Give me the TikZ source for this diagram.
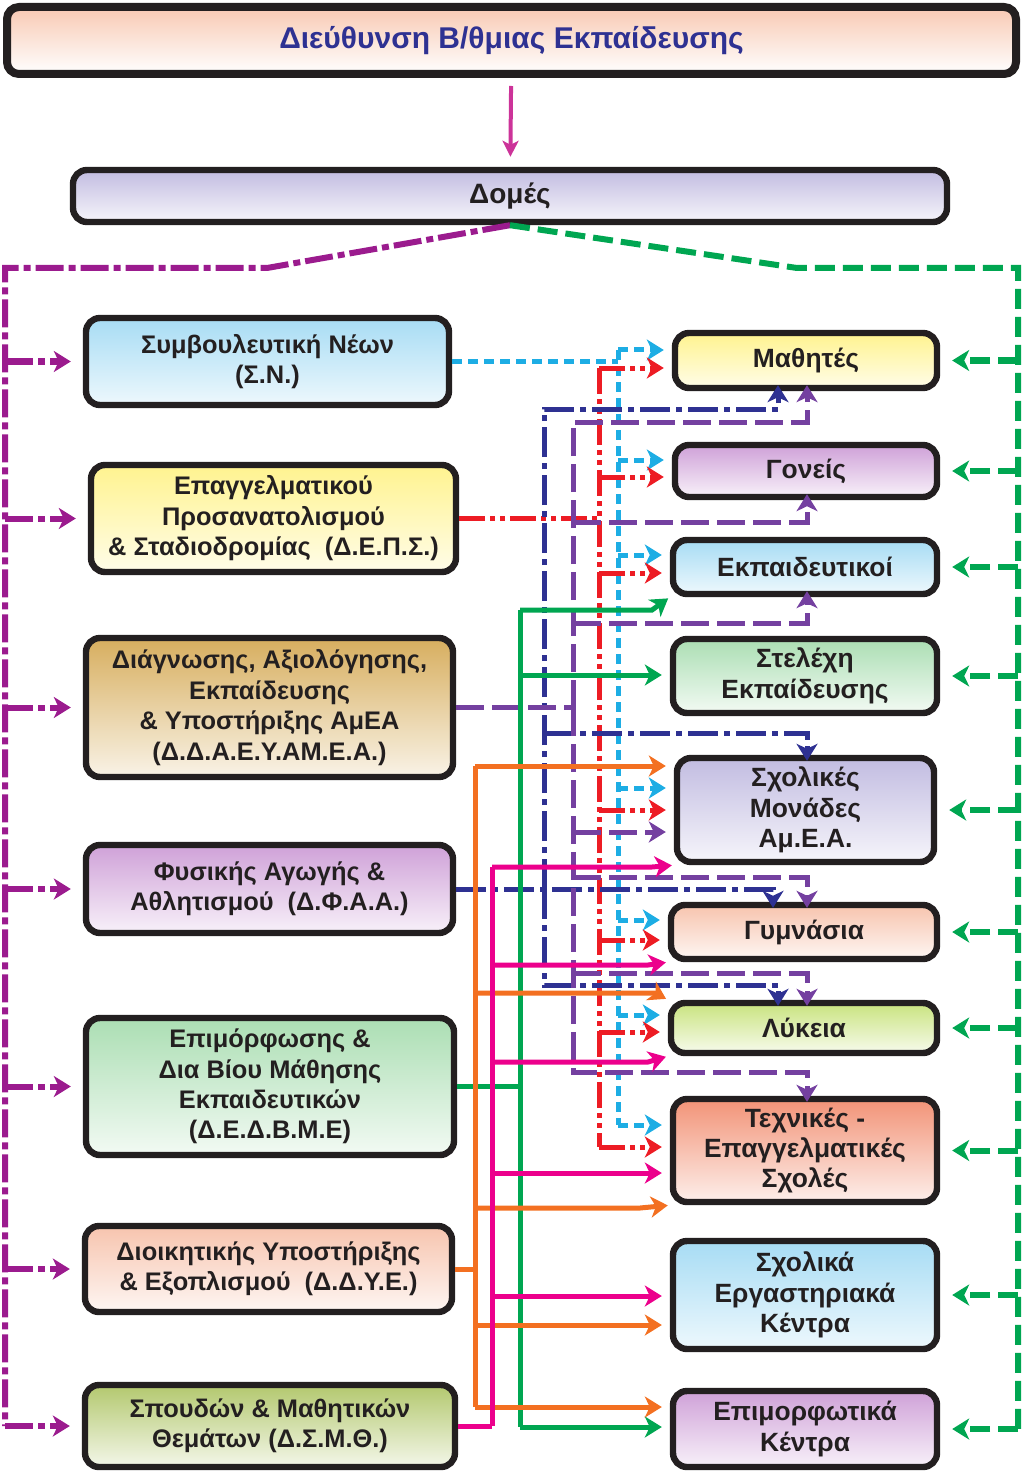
\documentclass[tikz,border=0pt]{standalone}
\usepackage{fontspec}
\setmainfont{Liberation Sans}
\usetikzlibrary{arrows.meta}

\definecolor{txtblack}{HTML}{231F20}
\definecolor{titleblue}{HTML}{2E3192}
\definecolor{dirpink}{HTML}{CC3399}
\definecolor{magbus}{HTML}{9B1B8E}
\definecolor{greenbus}{HTML}{00A651}
\definecolor{cyanbus}{HTML}{1DADE4}
\definecolor{redbus}{HTML}{ED1C24}
\definecolor{navybus}{HTML}{2E3192}
\definecolor{violetbus}{HTML}{7440A0}
\definecolor{orangebus}{HTML}{F37021}
\definecolor{pinkbus}{HTML}{EC008C}

\definecolor{cBlue}{HTML}{A7DCF4}
\definecolor{cYellow}{HTML}{FFF38F}
\definecolor{cTan}{HTML}{D7AE5E}
\definecolor{cLilac}{HTML}{CFA1D8}
\definecolor{cGreen}{HTML}{ABDEB3}
\definecolor{cPeach}{HTML}{F7C4AE}
\definecolor{cOlive}{HTML}{B3C86E}
\definecolor{cLavender}{HTML}{C2BCE1}
\definecolor{cLime}{HTML}{C9E37F}
\definecolor{cSalmon}{HTML}{F29377}
\definecolor{cTitle}{HTML}{F8C9B3}

\tikzstyle{unit} = [rectangle, rounded corners=7pt, draw=txtblack, line width=3.2pt, align=center, text=txtblack, font=\bfseries\fontsize{12.7}{15.2}\selectfont, inner sep=2pt]
\tikzstyle{target} = [unit, font=\bfseries\fontsize{13.2}{15.2}\selectfont]
\tikzstyle{tip} = [-{Stealth[length=8.5pt,width=10.5pt,inset=2.5pt]}, shorten >=4pt]
\tikzstyle{vtip} = [-{Stealth[length=8.5pt,width=10.5pt,inset=2.5pt]}, shorten >=-3pt]
\tikzstyle{magline} = [magbus, line width=3pt, dash pattern=on 14pt off 2.5pt on 3.5pt off 2.5pt]
\tikzstyle{greenline} = [greenbus, line width=3pt, dash pattern=on 10pt off 4pt]
\tikzstyle{cyanline} = [cyanbus, line width=2.5pt, dash pattern=on 5pt off 3pt]
\tikzstyle{redline} = [redbus, line width=2.5pt, dash pattern=on 13pt off 2.5pt on 2.5pt off 2.5pt on 2.5pt off 2.5pt]
\tikzstyle{navyline} = [navybus, line width=2.5pt, dash pattern=on 15pt off 3pt on 3pt off 3pt]
\tikzstyle{violetline} = [violetbus, line width=2.5pt, dash pattern=on 14pt off 4pt]
\tikzstyle{solidgreen} = [greenbus, line width=2.5pt]
\tikzstyle{orangeline} = [orangebus, line width=2.5pt]
\tikzstyle{pinkline} = [pinkbus, line width=2.5pt]

\begin{document}
\begin{tikzpicture}[x=0.5pt, y=-0.5pt]
    \useasboundingbox (0,0) rectangle (1024,1476);

    % top levels
    \node (title) [unit, line width=4pt, rounded corners=6pt, minimum width=504.5pt, minimum height=33.5pt, top color=cTitle, bottom color=white, text=titleblue, font=\bfseries\fontsize{15}{17}\selectfont] at (511.5,40.5) {Διεύθυνση Β/θμιας Εκπαίδευσης};
    \node (domes) [unit, minimum width=437pt, minimum height=26pt, top color=cLavender, bottom color=cLavender!15, font=\bfseries\fontsize{14}{16}\selectfont] at (510,196) {Δομές};

    % left column
    \node (sn) [unit, minimum width=181.5pt, minimum height=43.5pt, top color=cBlue, bottom color=cBlue!20] at (267.5,361.5) {Συμβουλευτική Νέων\\(Σ.Ν.)};
    \node (deps) [unit, minimum width=182.5pt, minimum height=53.5pt, top color=cYellow, bottom color=cYellow!20] at (273.5,518.5) {Επαγγελματικού\\Προσανατολισμού\\\& Σταδιοδρομίας~~(Δ.Ε.Π.Σ.)};
    \node (ddaey) [unit, minimum width=183.5pt, minimum height=69.5pt, top color=cTan, bottom color=cTan!15] at (269.5,707.5) {Διάγνωσης, Αξιολόγησης,\\Εκπαίδευσης\\\& Υποστήριξης ΑμΕΑ\\(Δ.Δ.Α.Ε.Υ.ΑΜ.Ε.Α.)};
    \node (dfaa) [unit, minimum width=183.5pt, minimum height=44pt, top color=cLilac, bottom color=cLilac!15] at (269.5,889) {Φυσικής Αγωγής \&\\Αθλητισμού~~(Δ.Φ.Α.Α.)};
    \node (edbme) [unit, minimum width=184pt, minimum height=68.5pt, top color=cGreen, bottom color=cGreen!15] at (270,1086.5) {Επιμόρφωσης \&\\Δια Βίου Μάθησης\\Εκπαιδευτικών\\(Δ.Ε.Δ.Β.Μ.Ε)};
    \node (ddye) [unit, minimum width=183.5pt, minimum height=43pt, top color=cPeach, bottom color=cPeach!15] at (268.5,1269) {Διοικητικής Υποστήριξης\\\& Εξοπλισμού~~(Δ.Δ.Υ.Ε.)};
    \node (dsmth) [unit, minimum width=185pt, minimum height=41pt, top color=cOlive, bottom color=cOlive!15] at (270,1426) {Σπουδών \& Μαθητικών\\Θεμάτων (Δ.Σ.Μ.Θ.)};

    % right column
    \node (math) [target, minimum width=131pt, minimum height=27.5pt, top color=cYellow, bottom color=cYellow!20] at (806,360.5) {Μαθητές};
    \node (goneis) [target, minimum width=131pt, minimum height=26pt, top color=cLilac, bottom color=cLilac!15] at (806,471) {Γονείς};
    \node (ekp) [target, minimum width=132pt, minimum height=27pt, top color=cBlue, bottom color=cBlue!20] at (805,567) {Εκπαιδευτικοί};
    \node (stel) [target, minimum width=132pt, minimum height=37pt, top color=cGreen, bottom color=cGreen!15] at (805,676) {Στελέχη\\Εκπαίδευσης};
    \node (sxmon) [target, minimum width=128.5pt, minimum height=52pt, top color=cLavender, bottom color=cLavender!15] at (805.5,810) {Σχολικές\\Μονάδες\\Αμ.Ε.Α.};
    \node (gym) [target, minimum width=133pt, minimum height=27pt, top color=cPeach, bottom color=cPeach!15] at (804,932) {Γυμνάσια};
    \node (lyk) [target, minimum width=133pt, minimum height=25pt, top color=cLime, bottom color=cLime!15] at (804,1028) {Λύκεια};
    \node (tex) [target, minimum width=132pt, minimum height=51.5pt, top color=cSalmon, bottom color=cSalmon!15] at (805,1150.5) {Τεχνικές -\\Επαγγελματικές\\Σχολές};
    \node (sek) [target, minimum width=132pt, minimum height=54pt, top color=cBlue, bottom color=cBlue!20] at (805,1295) {Σχολικά\\Εργαστηριακά\\Κέντρα};
    \node (epik) [target, minimum width=132pt, minimum height=38pt, top color=cLilac, bottom color=cLilac!15] at (805,1429) {Επιμορφωτικά\\Κέντρα};

    \draw [dirpink, line width=2pt, -{Stealth[length=8pt,width=8pt,inset=2pt]}, shorten <=4pt, shorten >=5pt] (title) -- (domes);

    % outer buses
    \draw [magline] (domes.south) -- (267,268) -- (5,268) -- (dsmth.west -| 5,0);
    \draw [magline, tip, shorten >=6pt] (sn.west -| 5,0) -- (sn.west);
    \draw [magline, tip, shorten >=6pt] (deps.west -| 5,0) -- (deps.west);
    \draw [magline, tip, shorten >=6pt] (ddaey.west -| 5,0) -- (ddaey.west);
    \draw [magline, tip, shorten >=6pt] (dfaa.west -| 5,0) -- (dfaa.west);
    \draw [magline, tip, shorten >=6pt] (edbme.west -| 5,0) -- (edbme.west);
    \draw [magline, tip, shorten >=6pt] (ddye.west -| 5,0) -- (ddye.west);
    \draw [magline, tip, shorten >=6pt] (dsmth.west -| 5,0) -- (dsmth.west);

    \draw [greenline] (domes.south) -- (797,268) -- (1018,268) -- (epik.east -| 1018,0);
    \draw [greenline, tip, shorten >=6pt] (math.east -| 1018,0) -- (math.east);
    \draw [greenline, tip, shorten >=6pt] (goneis.east -| 1018,0) -- (goneis.east);
    \draw [greenline, tip, shorten >=6pt] (ekp.east -| 1018,0) -- (ekp.east);
    \draw [greenline, tip, shorten >=6pt] (stel.east -| 1018,0) -- (stel.east);
    \draw [greenline, tip, shorten >=6pt] (sxmon.east -| 1018,0) -- (sxmon.east);
    \draw [greenline, tip, shorten >=6pt] (gym.east -| 1018,0) -- (gym.east);
    \draw [greenline, tip, shorten >=6pt] (lyk.east -| 1018,0) -- (lyk.east);
    \draw [greenline, tip, shorten >=6pt] (tex.east -| 1018,0) -- (tex.east);
    \draw [greenline, tip, shorten >=6pt] (sek.east -| 1018,0) -- (sek.east);
    \draw [greenline, tip, shorten >=6pt] (epik.east -| 1018,0) -- (epik.east);

    % Σ.Ν.
    \draw [cyanline] (sn.east) -- (sn.east -| 618,0);
    \draw [cyanline] (618,350) -- (618,1125);
    \draw [cyanline, tip] (618,350) -- (math.west |- 0,350);
    \draw [cyanline, tip] (618,460) -- (goneis.west |- 0,460);
    \draw [cyanline, tip] (618,555) -- (ekp.west |- 0,555);
    \draw [cyanline, tip] (618,788) -- (sxmon.west |- 0,788);
    \draw [cyanline, tip] (618,920) -- (gym.west |- 0,920);
    \draw [cyanline, tip] (618,1015) -- (lyk.west |- 0,1015);
    \draw [cyanline, tip] (618,1125) -- (tex.west |- 0,1125);

    % Δ.Ε.Π.Σ.
    \draw [redline] (deps.east) -- (deps.east -| 599,0);
    \draw [redline] (599,368) -- (599,1147);
    \draw [redline, tip] (599,368) -- (math.west |- 0,368);
    \draw [redline, tip] (599,477) -- (goneis.west |- 0,477);
    \draw [redline, tip] (599,573) -- (ekp.west |- 0,573);
    \draw [redline, tip] (599,810) -- (sxmon.west |- 0,810);
    \draw [redline, tip] (599,940) -- (gym.west |- 0,940);
    \draw [redline, tip] (599,1032) -- (lyk.west |- 0,1032);
    \draw [redline, tip] (599,1147) -- (tex.west |- 0,1147);

    % Δ.Φ.Α.Α.
    \draw [navyline, vtip] (dfaa.east) -| (gym.north -| 773,0);
    \draw [navyline, vtip] (544,889) -- (544,409) -| (math.south -| 778,0);
    \draw [navyline, vtip] (544,733) -| (sxmon.north -| 807,0);
    \draw [navyline, vtip] (544,889) -- (544,985) -| (lyk.north -| 778,0);

    % Δ.Δ.Α.Ε.Υ.ΑΜ.Ε.Α.
    \draw [violetline] (ddaey.east) -- (ddaey.east -| 573,0);
    \draw [violetline, vtip] (573,708) -- (573,422) -| (math.south -| 807,0);
    \draw [violetline, vtip] (573,522) -| (goneis.south -| 807,0);
    \draw [violetline, vtip] (573,623) -| (ekp.south -| 807,0);
    \draw [violetline, tip] (573,832) -- (sxmon.west |- 0,832);
    \draw [violetline, vtip] (573,877) -| (gym.north -| 807,0);
    \draw [violetline, vtip] (573,973) -| (lyk.north -| 807,0);
    \draw [violetline, vtip] (573,708) -- (573,1072) -| (tex.north -| 807,0);

    % Δ.Ε.Δ.Β.Μ.Ε
    \draw [solidgreen] (edbme.east) -- (edbme.east -| 520,0);
    \draw [solidgreen] (520,610) -- (520,1427);
    \draw [solidgreen, tip, shorten >=1pt] (520,610) -- (652,610) -- (ekp.south west);
    \draw [solidgreen, tip] (520,675) -- (stel.west |- 0,675);
    \draw [solidgreen, tip] (520,1427) -- (epik.west |- 0,1427);

    % Δ.Δ.Υ.Ε.
    \draw [orangeline] (ddye.east) -- (ddye.east -| 475,0);
    \draw [orangeline] (475,766) -- (475,1407);
    \draw [orangeline, tip] (475,766) -- (sxmon.west |- 0,766);
    \draw [orangeline, tip, shorten >=1pt] (475,993) -- (655,993) -- (lyk.north west);
    \draw [orangeline, tip, shorten >=1pt] (475,1208) -- (640,1208) -- (tex.south west);
    \draw [orangeline, tip] (475,1325) -- (sek.west |- 0,1325);
    \draw [orangeline, tip] (475,1407) -- (epik.west |- 0,1407);

    % Δ.Σ.Μ.Θ.
    \draw [pinkline] (dsmth.east) -- (dsmth.east -| 492,0);
    \draw [pinkline] (492,867) -- (492,1426);
    \draw [pinkline, tip, shorten >=1pt] (492,867) -- (652,867) -- (sxmon.south west);
    \draw [pinkline, tip, shorten >=1pt] (492,965) -- (648,965) -- (gym.south west);
    \draw [pinkline, tip, shorten >=1pt] (492,1062) -- (648,1062) -- (lyk.south west);
    \draw [pinkline, tip] (492,1173) -- (tex.west |- 0,1173);
    \draw [pinkline, tip] (492,1296) -- (sek.west |- 0,1296);

\end{tikzpicture}
\end{document}
